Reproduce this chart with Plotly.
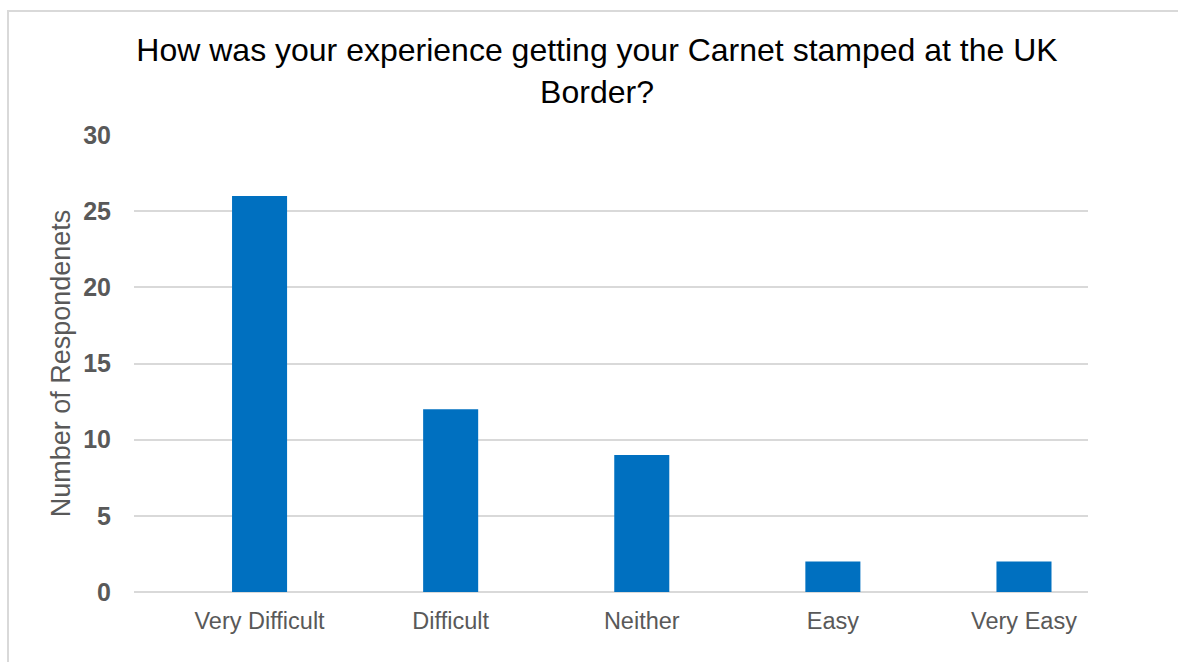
import plotly.graph_objects as go

categories = ["Very Difficult", "Difficult", "Neither", "Easy", "Very Easy"]
respondents = [26, 12, 9, 2, 2]
y_ticks = [0, 5, 10, 15, 20, 25, 30]

W, H = 1178, 662
L, R, T, B = 134, 90, 135, 70
plot_w = W - L - R
plot_h = H - T - B

fig = go.Figure(
    go.Bar(
        x=categories,
        y=respondents,
        width=0.288,
        marker=dict(color="#0070C0", line=dict(width=0)),
        hoverinfo="x+y",
    )
)

# outer chart frame, expressed in paper units relative to the plot area
def px_to_paper_x(px):
    return (px - L) / plot_w

def px_to_paper_y(py):
    return (H - B - py) / plot_h

fig.add_shape(
    type="rect",
    xref="paper", yref="paper",
    x0=px_to_paper_x(8), x1=px_to_paper_x(1200),
    y0=px_to_paper_y(700), y1=px_to_paper_y(11),
    line=dict(color="#D9D9D9", width=2),
    fillcolor="rgba(0,0,0,0)",
    layer="below",
)

fig.update_layout(
    width=W, height=H,
    margin=dict(l=L, r=R, t=T, b=B),
    paper_bgcolor="white",
    plot_bgcolor="white",
    showlegend=False,
    font=dict(family="Liberation Sans, Arial, sans-serif"),
    title=dict(
        text="How was your experience getting your Carnet stamped at the UK<br>Border?",
        x=597 / W, xanchor="center",
        y=1 - 61 / H, yanchor="middle",
        font=dict(size=32, color="#000000"),
    ),
    xaxis=dict(
        type="category",
        range=[-0.657, 4.335],
        showgrid=False,
        showline=False,
        ticks="",
        tickfont=dict(size=23.5, color="#595959"),
        ticklabelstandoff=12,
    ),
    yaxis=dict(
        range=[0, 30],
        tickvals=y_ticks,
        showgrid=True,
        gridcolor="#D9D9D9",
        gridwidth=2,
        zeroline=True,
        zerolinecolor="#D9D9D9",
        zerolinewidth=2,
        showline=False,
        ticks="",
        tickfont=dict(size=25, color="#595959", weight="bold"),
        ticklabelstandoff=22,
        title=dict(
            text="Number of Respondenets",
            font=dict(size=27, color="#595959"),
            standoff=4,
        ),
    ),
)

fig.write_html("out.html")
